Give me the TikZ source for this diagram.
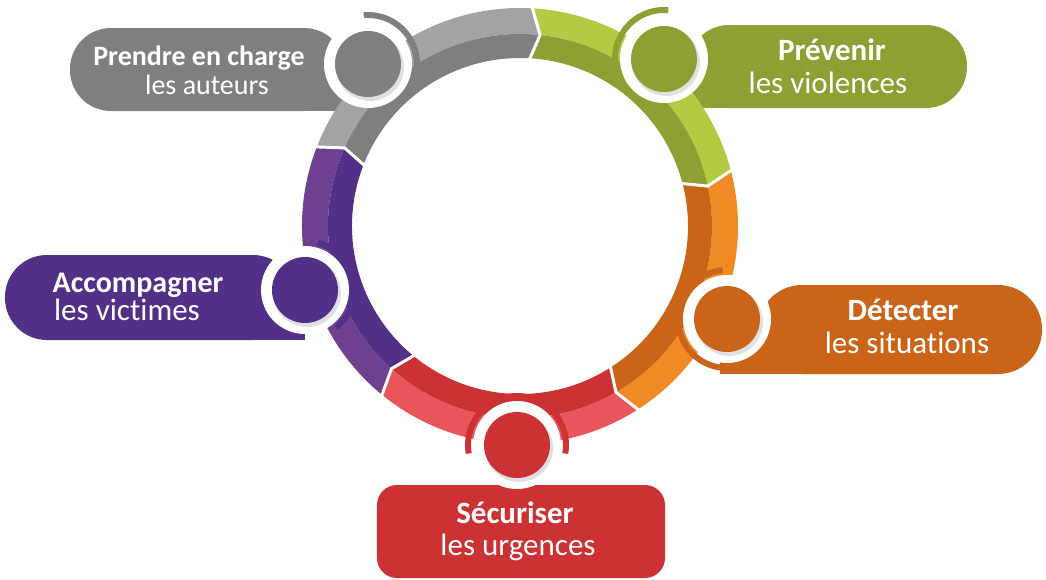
\documentclass[tikz,border=0pt]{standalone}
\usepackage{fontspec}
\setmainfont{Carlito}[Ligatures=NoCommon]
\definecolor{grisclair}{HTML}{A3A3A3}
\definecolor{grisfonce}{HTML}{7F7F7F}
\definecolor{vertclair}{HTML}{B3CB42}
\definecolor{vertfonce}{HTML}{8CA034}
\definecolor{orangeclair}{HTML}{F08A24}
\definecolor{orangefonce}{HTML}{CA6418}
\definecolor{rougeclair}{HTML}{E8555B}
\definecolor{rougefonce}{HTML}{CC3133}
\definecolor{violetclair}{HTML}{6D418F}
\definecolor{violetfonce}{HTML}{523088}
\tikzset{
  titre/.style={text=white, inner sep=0pt, anchor=base, font=\bfseries\fontsize{31}{33}\selectfont},
  soustitre/.style={text=white, inner sep=0pt, anchor=base, font=\fontsize{31}{33}\selectfont}
}
\begin{document}
\begin{tikzpicture}[x=1pt,y=1pt]
	\useasboundingbox (-520,-353) rectangle (526,226);
	% cartouches
	\fill[grisfonce, rounded corners=41] (-450,115) rectangle (-175,198);
	\fill[grisfonce] (-220,115) rectangle (-156,156);
	\fill[vertfonce, rounded corners=41] (168,118) rectangle (447,201);
	\fill[vertfonce] (150,118) rectangle (210,159);
	\fill[violetfonce, rounded corners=42] (-515,-114) rectangle (-225,-29);
	\fill[violetfonce] (-270,-114) rectangle (-215,-71);
	\fill[orangefonce, rounded corners=44] (238,-148) rectangle (522,-59);
	\fill[orangefonce] (200,-148) rectangle (280,-104);
	\fill[rougefonce, rounded corners=20] (-143,-352) rectangle (145,-259);
	% anneau : cinq fleches
	\foreach \a/\b/\lt/\dk in {159/87/grisclair/grisfonce, 87/15/vertclair/vertfonce, 15/-57/orangeclair/orangefonce, -57/-129/rougeclair/rougefonce, 231/159/violetclair/violetfonce}{
		\fill[\lt] (\a:218) arc[start angle=\a, end angle=\b, radius=218] -- ({\b-3}:192) arc[start angle={\b-3}, end angle={\a-3}, radius=192] -- cycle;
		\fill[\dk] ({\b-3}:192) -- (\b:168) arc[start angle=\b, end angle=\a, radius=168] -- ({\a-3}:192) arc[start angle={\a-3}, end angle={\b-3}, radius=192] -- cycle;
	}
	\foreach \a in {159,87,15,-57,-129}
		\draw[white, line width=3] (\a:221) -- ({\a-3}:192) -- (\a:165);
	% pastilles
	\foreach \x/\y/\c/\s/\e in {-152/162/grisfonce/95/-10, 144/167/vertfonce/85/190, 207/-93/orangefonce/95/265, -3/-219/rougefonce/190/-10, -215/-64/violetfonce/75/-50}{
		\fill[white] (\x,\y) circle[radius=44];
		\draw[\c, line width=6] (\x,\y) ++(\s:49) arc[start angle=\s, end angle=\e, radius=49];
		\fill[black, opacity=0.12] (\x+2,\y-3) circle[radius=34];
		\fill[\c] (\x,\y) circle[radius=33];
	}
	% textes
	\node[titre, font=\bfseries\fontsize{28}{30}\selectfont] (prendre) at (-321,161) {Prendre en charge};
	\node[soustitre, font=\fontsize{28}{30}\selectfont] (auteurs) at (-313,132) {les auteurs};
	\node[titre] (prevenir) at (312,166) {Prévenir};
	\node[soustitre] (violences) at (308,133) {les violences};
	\node[titre] (detecter) at (383,-94) {Détecter};
	\node[soustitre] (situations) at (387,-127) {les situations};
	\node[titre] (securiser) at (-5,-297) {Sécuriser};
	\node[soustitre] (urgences) at (-2,-329) {les urgences};
	\node[titre, font=\bfseries\fontsize{30}{32}\selectfont] (accompagner) at (-382,-66) {Accompagner};
	\node[soustitre] (victimes) at (-393,-94) {les victimes};
\end{tikzpicture}
\end{document}
